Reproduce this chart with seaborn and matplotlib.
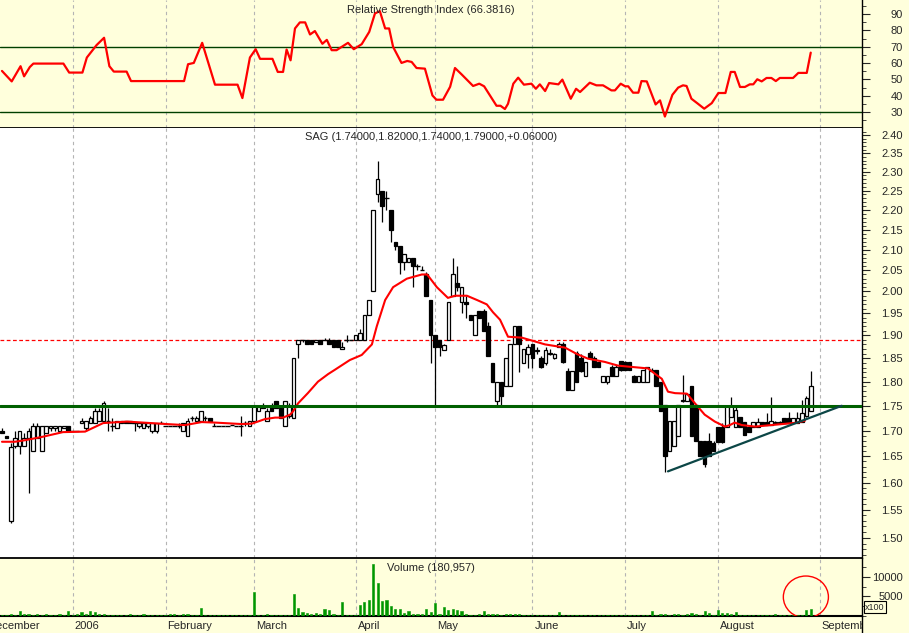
import numpy as np
import pandas as pd
import seaborn as sns
import matplotlib.pyplot as plt
import matplotlib.ticker as mticker
import matplotlib.transforms as mtrans
from matplotlib.patches import Ellipse, Rectangle
from matplotlib.lines import Line2D

sns.set_style("white")
plt.rcParams['font.family'] = ['Liberation Sans', 'DejaVu Sans']

# daily OHLC, one line per month (Dec 2005 .. Aug 2006)
opens = [1.700, 1.690, 1.530, 1.670, 1.670, 1.670, 1.685, 1.660, 1.685, 1.660, 1.695, 1.705, 1.705, 1.700, 1.705, 1.710,
         1.700, 1.700, 1.715, 1.705, 1.715, 1.715, 1.720, 1.720, 1.720, 1.710, 1.705, 1.720, 1.720, 1.720, 1.715, 1.710, 1.705, 1.710, 1.700, 1.700, 1.715,
         1.710, 1.710, 1.710, 1.710, 1.700, 1.690, 1.725, 1.720, 1.720, 1.725, 1.725, 1.710, 1.710, 1.710, 1.710, 1.712, 1.710, 1.710, 1.715, 1.710,
         1.720, 1.740, 1.750, 1.720, 1.750, 1.760, 1.745, 1.710, 1.730, 1.725, 1.880, 1.890, 1.890, 1.890, 1.885, 1.890, 1.890, 1.890, 1.890, 1.890, 1.870, 1.890, 1.890,
         1.890, 1.890, 1.890, 1.945, 2.000, 2.240, 2.250, 2.230, 2.200, 2.120, 2.110, 2.070, 2.070, 2.080, 2.060, 2.050, 2.040, 1.980,
         1.900, 1.890, 1.868, 1.890, 1.990, 2.020, 1.975, 1.975, 1.945, 1.900, 1.955, 1.955, 1.920, 1.840, 1.760, 1.800, 1.790, 1.790, 1.880, 1.920, 1.840, 1.860,
         1.880, 1.865, 1.850, 1.840, 1.860, 1.850, 1.875, 1.880, 1.822, 1.782, 1.861, 1.850, 1.812, 1.861, 1.850, 1.841, 1.800, 1.800, 1.832, 1.812, 1.845,
         1.841, 1.841, 1.812, 1.800, 1.800, 1.800, 1.825, 1.825, 1.800, 1.752, 1.660, 1.670, 1.690, 1.760, 1.760, 1.790, 1.752, 1.680, 1.680, 1.680, 1.675,
         1.708, 1.708, 1.708, 1.728, 1.708, 1.728, 1.718, 1.708, 1.708, 1.708, 1.718, 1.718, 1.711, 1.715, 1.715, 1.725, 1.725, 1.715, 1.715, 1.718, 1.730, 1.740]
highs = [1.705, 1.690, 1.675, 1.700, 1.700, 1.695, 1.705, 1.715, 1.715, 1.710, 1.710, 1.710, 1.710, 1.710, 1.710, 1.710,
         1.700, 1.700, 1.725, 1.720, 1.730, 1.745, 1.745, 1.760, 1.745, 1.725, 1.720, 1.720, 1.720, 1.720, 1.715, 1.715, 1.715, 1.715, 1.715, 1.715, 1.720,
         1.710, 1.710, 1.710, 1.715, 1.715, 1.725, 1.730, 1.730, 1.740, 1.730, 1.725, 1.715, 1.710, 1.710, 1.710, 1.712, 1.710, 1.730, 1.720, 1.720,
         1.750, 1.750, 1.755, 1.745, 1.755, 1.760, 1.745, 1.760, 1.755, 1.850, 1.890, 1.890, 1.890, 1.890, 1.890, 1.890, 1.895, 1.895, 1.890, 1.890, 1.885, 1.900, 1.890,
         1.900, 1.915, 1.945, 1.980, 2.200, 2.330, 2.250, 2.250, 2.200, 2.120, 2.110, 2.090, 2.080, 2.080, 2.065, 2.060, 2.045, 1.980,
         1.900, 1.890, 1.880, 1.975, 2.080, 2.060, 2.010, 1.990, 1.945, 1.945, 1.955, 1.960, 1.930, 1.840, 1.800, 1.800, 1.850, 1.880, 1.920, 1.920, 1.870, 1.880,
         1.880, 1.875, 1.855, 1.875, 1.870, 1.862, 1.885, 1.885, 1.830, 1.822, 1.865, 1.860, 1.841, 1.865, 1.855, 1.841, 1.812, 1.812, 1.835, 1.835, 1.845,
         1.845, 1.841, 1.815, 1.812, 1.825, 1.832, 1.830, 1.825, 1.800, 1.752, 1.720, 1.720, 1.752, 1.815, 1.775, 1.790, 1.752, 1.680, 1.680, 1.695, 1.680,
         1.708, 1.715, 1.749, 1.769, 1.749, 1.728, 1.718, 1.708, 1.718, 1.725, 1.718, 1.735, 1.769, 1.720, 1.720, 1.725, 1.738, 1.725, 1.738, 1.762, 1.770, 1.822]
lows = [1.695, 1.685, 1.527, 1.665, 1.655, 1.670, 1.580, 1.660, 1.685, 1.660, 1.695, 1.700, 1.700, 1.700, 1.705, 1.700,
        1.700, 1.700, 1.715, 1.700, 1.715, 1.715, 1.720, 1.720, 1.700, 1.700, 1.705, 1.715, 1.715, 1.715, 1.700, 1.705, 1.705, 1.705, 1.695, 1.695, 1.715,
        1.710, 1.710, 1.710, 1.705, 1.700, 1.690, 1.720, 1.720, 1.720, 1.720, 1.720, 1.710, 1.710, 1.710, 1.710, 1.712, 1.710, 1.690, 1.710, 1.710,
        1.720, 1.740, 1.745, 1.720, 1.740, 1.745, 1.725, 1.710, 1.725, 1.725, 1.850, 1.885, 1.880, 1.880, 1.885, 1.880, 1.890, 1.880, 1.875, 1.875, 1.870, 1.885, 1.890,
        1.890, 1.890, 1.890, 1.945, 2.000, 2.220, 2.170, 2.200, 2.120, 2.100, 2.040, 2.050, 2.070, 2.010, 2.050, 2.050, 1.990, 1.840,
        1.750, 1.855, 1.868, 1.890, 1.990, 2.000, 1.950, 1.940, 1.935, 1.900, 1.940, 1.910, 1.855, 1.800, 1.750, 1.750, 1.790, 1.790, 1.880, 1.820, 1.840, 1.830,
        1.830, 1.860, 1.830, 1.835, 1.858, 1.848, 1.875, 1.840, 1.782, 1.782, 1.800, 1.820, 1.812, 1.850, 1.832, 1.832, 1.800, 1.795, 1.812, 1.812, 1.822,
        1.825, 1.825, 1.800, 1.800, 1.800, 1.800, 1.822, 1.790, 1.740, 1.620, 1.660, 1.670, 1.690, 1.758, 1.760, 1.690, 1.680, 1.650, 1.630, 1.650, 1.660,
        1.678, 1.675, 1.708, 1.728, 1.708, 1.708, 1.691, 1.698, 1.708, 1.708, 1.711, 1.711, 1.711, 1.715, 1.715, 1.715, 1.715, 1.715, 1.715, 1.718, 1.728, 1.740]
closes = [1.695, 1.685, 1.667, 1.685, 1.700, 1.685, 1.700, 1.710, 1.710, 1.710, 1.710, 1.710, 1.710, 1.710, 1.710, 1.700,
          1.700, 1.700, 1.720, 1.720, 1.725, 1.740, 1.740, 1.755, 1.720, 1.710, 1.720, 1.715, 1.715, 1.715, 1.715, 1.715, 1.715, 1.715, 1.715, 1.715, 1.715,
          1.710, 1.710, 1.710, 1.710, 1.715, 1.720, 1.725, 1.725, 1.740, 1.725, 1.720, 1.710, 1.710, 1.710, 1.710, 1.712, 1.710, 1.710, 1.715, 1.720,
          1.750, 1.750, 1.745, 1.740, 1.740, 1.745, 1.725, 1.760, 1.750, 1.850, 1.890, 1.890, 1.880, 1.880, 1.890, 1.880, 1.890, 1.880, 1.875, 1.875, 1.875, 1.890, 1.890,
          1.900, 1.905, 1.945, 1.980, 2.200, 2.280, 2.210, 2.230, 2.150, 2.110, 2.070, 2.090, 2.080, 2.060, 2.060, 2.050, 1.990, 1.900,
          1.875, 1.875, 1.878, 1.975, 2.040, 2.010, 2.010, 1.970, 1.935, 1.945, 1.940, 1.910, 1.855, 1.800, 1.800, 1.770, 1.850, 1.880, 1.920, 1.880, 1.870, 1.875,
          1.850, 1.868, 1.832, 1.868, 1.862, 1.860, 1.880, 1.841, 1.782, 1.822, 1.800, 1.822, 1.841, 1.850, 1.832, 1.832, 1.812, 1.812, 1.812, 1.832, 1.825,
          1.825, 1.825, 1.800, 1.812, 1.825, 1.832, 1.822, 1.790, 1.740, 1.650, 1.720, 1.720, 1.752, 1.762, 1.775, 1.690, 1.680, 1.650, 1.635, 1.650, 1.660,
          1.678, 1.678, 1.749, 1.749, 1.742, 1.708, 1.691, 1.698, 1.718, 1.718, 1.711, 1.711, 1.720, 1.718, 1.718, 1.715, 1.715, 1.725, 1.725, 1.735, 1.765, 1.790]
# volume in hundreds of shares
volume = [200, 150, 400, 150, 1250, 400, 600, 300, 500, 300, 400, 250, 300, 400, 200, 1250,
          200, 400, 1000, 600, 1250, 1000, 600, 400, 250, 200, 200, 150, 200, 400, 200, 250, 600, 150, 150, 150, 150,
          150, 400, 500, 200, 400, 400, 200, 150, 2000, 150, 200, 150, 150, 150, 200, 150, 150, 150, 150, 300,
          6000, 150, 200, 400, 150, 150, 150, 150, 150, 5700, 2000, 1000, 830, 400, 830, 600, 1670, 1500, 400, 150, 3500, 150, 200,
          300, 2900, 3500, 4000, 13200, 8500, 3900, 4100, 2500, 1830, 1670, 830, 1250, 400, 600, 600, 1670, 1000,
          3330, 400, 2330, 1500, 1830, 1500, 1250, 400, 250, 250, 400, 1250, 600, 400, 600, 250, 400, 600, 400, 400, 250, 150,
          150, 200, 150, 200, 150, 200, 1080, 150, 200, 150, 150, 200, 150, 150, 250, 150, 150, 150, 150, 150, 200,
          150, 150, 150, 200, 150, 250, 1250, 300, 400, 400, 300, 600, 600, 300, 400, 830, 400, 300, 1250, 830, 300,
          1500, 830, 830, 600, 1000, 300, 150, 150, 150, 150, 150, 150, 150, 600, 300, 150, 150, 200, 150, 150, 1500, 1810]

# moving average line (bar position, price)
ma_pos = [0, 2.9, 5.2, 9.3, 13.8, 18.8, 22.9, 28.3, 37.3, 41.4, 45.2, 48.2, 54.3, 56.6, 59.5, 61.8, 63.6, 65.2, 65.8, 67,
          69.2, 71.5, 73.8, 75.3, 78.7, 81.4, 83.7, 84.8, 86.7, 88.5, 91.6, 95, 96.2, 98.4, 100.9, 102.5, 105.2, 107.5, 109.7,
          111.1, 112.7, 114.5, 117.6, 122.9, 127.4, 130.1, 132.6, 136.4, 139.4, 141.6, 146.2, 147.7, 149.3, 150.7, 152.3, 155,
          156.8, 159, 161.3, 163.6, 164.7, 165.8, 167.4, 170.4, 176.5, 180.1, 181.7]
ma_val = [1.678, 1.678, 1.681, 1.688, 1.697, 1.698, 1.715, 1.718, 1.713, 1.711, 1.717, 1.716, 1.713, 1.714, 1.723, 1.726, 1.726, 1.732, 1.738, 1.755,
          1.776, 1.800, 1.816, 1.825, 1.846, 1.857, 1.880, 1.920, 1.980, 2.010, 2.030, 2.040, 2.040, 2.010, 1.985, 1.990, 1.990, 1.980, 1.970,
          1.952, 1.935, 1.897, 1.895, 1.880, 1.873, 1.859, 1.849, 1.842, 1.834, 1.832, 1.828, 1.817, 1.806, 1.779, 1.776, 1.775,
          1.755, 1.732, 1.718, 1.708, 1.711, 1.716, 1.711, 1.708, 1.713, 1.716, 1.720]

# RSI line (bar position, value)
rsi_pos = [0, 2.2, 4.2, 5.0, 6.3, 7.1, 13.9, 15.2, 18.2, 19.2, 21.4, 23.1, 24.3, 25.3, 28.2, 29.2, 41.2, 42.1, 43.4, 45.3,
           48.2, 53.3, 54.4, 56.1, 57.4, 58.4, 61.2, 62.4, 63.6, 64.4, 65.3, 66.3, 67.4, 68.6, 69.7, 70.8, 72.5, 73.5, 74.6, 75.7,
           78.3, 79.6, 81.4, 83.1, 84.4, 85.5, 86.7, 87.6, 88.5, 90.4, 91.7, 92.7, 93.8, 95.7, 97.4, 98.3, 99.8, 101.4, 102.5, 104.0,
           106.6, 108.0, 109.1, 111.9, 112.8, 113.8, 114.5, 115.7, 116.8, 118.1, 119.8, 120.8, 121.7, 122.9, 123.8, 125.9, 126.8, 128.7, 129.9, 130.8,
           133.0, 134.5, 136.0, 137.9, 138.7, 140.0, 141.0, 141.7, 142.8, 144.0, 144.7, 145.9, 147.9, 148.9, 150.0, 151.7, 153.0, 154.1, 154.9, 156.0,
           157.3, 158.9, 160.6, 162.1, 163.7, 164.9, 165.8, 167.0, 168.1, 169.2, 170.0, 170.9, 171.9, 173.0, 174.1, 175.1, 176.0, 179.0, 180.2, 182.1,
           183.0]
rsi_val = [55.2, 48.8, 58.1, 51.9, 57.6, 59.7, 59.7, 54.2, 54.2, 63.4, 71.0, 75.5, 58.1, 54.8, 54.8, 49.0, 49.0, 59.3, 60.1, 72.4,
           46.8, 46.8, 38.6, 63.4, 68.5, 62.6, 62.6, 54.6, 54.6, 68.3, 61.7, 81.2, 84.9, 84.9, 77.5, 79.6, 71.8, 74.2, 67.9, 67.9,
           72.4, 68.5, 71.6, 79.1, 90.4, 91.8, 81.2, 81.2, 69.9, 60.1, 61.3, 60.7, 57.0, 56.6, 40.2, 37.6, 37.6, 45.5, 57.0, 53.1,
           46.0, 47.4, 45.8, 33.9, 33.9, 31.9, 35.1, 47.4, 51.1, 46.8, 47.4, 44.3, 47.0, 42.9, 47.8, 47.0, 49.9, 38.2, 44.3, 42.3,
           48.0, 46.4, 46.4, 43.3, 43.3, 47.4, 45.8, 45.8, 41.9, 41.9, 49.0, 48.8, 34.7, 37.2, 27.3, 40.6, 45.0, 46.4, 46.0, 38.2,
           35.5, 32.1, 35.5, 41.7, 41.7, 54.6, 54.6, 45.4, 45.4, 47.0, 47.0, 50.1, 48.8, 50.9, 50.9, 49.0, 50.9, 50.9, 54.0, 54.0,
           66.4]

month_labels = ["December", "2006", "February", "March", "April", "May", "June", "July", "August", "September"]
month_starts = [-3.6, 16, 37, 57, 80, 98, 120, 141, 162, 185]
trend_pos = [150.7, 190.0]
trend_val = [1.621, 1.750]

CREAM = '#FFFFDC'
W, H = 909, 633

df = pd.DataFrame({'o': opens, 'h': highs, 'l': lows, 'c': closes, 'v': volume})
df['x'] = np.arange(len(df))

fig = plt.figure(figsize=(W / 100, H / 100), dpi=100)
fig.patch.set_facecolor(CREAM)


def box(top, bottom):
    return [0, 1 - bottom / H, 862 / W, (bottom - top) / H]


ax_rsi = fig.add_axes(box(0, 127.5))
ax_px = fig.add_axes(box(127.5, 558), sharex=ax_rsi)
ax_vol = fig.add_axes(box(558, 616), sharex=ax_rsi)
ax_rsi.set_facecolor(CREAM)
ax_vol.set_facecolor(CREAM)
ax_px.set_facecolor('white')

# grid at month starts
for ax in (ax_rsi, ax_px, ax_vol):
    for m in month_starts[1:]:
        ax.axvline(m, color='#b4b4b4', lw=0.8, ls=(0, (3, 3)), zorder=0)

# --- RSI panel
sns.lineplot(x=rsi_pos, y=rsi_val, ax=ax_rsi, color='#ff0000', lw=1.6, estimator=None, zorder=3)
ax_rsi.axhline(70, color='#004000', lw=1.0)
ax_rsi.axhline(30, color='#004000', lw=1.0)
ax_rsi.set_ylim(20.6, 98.6)
ax_rsi.yaxis.set_major_locator(mticker.FixedLocator([30, 40, 50, 60, 70, 80, 90]))
ax_rsi.yaxis.set_minor_locator(mticker.MultipleLocator(5))
ax_rsi.text(0.5, 1 - 10 / 127, 'Relative Strength Index (66.3816)', transform=ax_rsi.transAxes,
            ha='center', va='center', fontsize=8)

# --- price panel (log scale)
ax_px.set_yscale('log')
ax_px.vlines(df.x, df.l, df.h, color='black', lw=0.9, zorder=2)
body = (df.c - df.o).abs() >= 0.0015
up = df.c >= df.o
for mask, fc in ((body & up, 'white'), (body & ~up, 'black')):
    sub = df[mask]
    ax_px.bar(sub.x, (sub.c - sub.o).abs(), bottom=np.minimum(sub.o, sub.c), width=0.82,
              facecolor=fc, edgecolor='black', lw=0.9, zorder=3)
doji = df[~body]
ax_px.hlines(doji.c, doji.x - 0.5, doji.x + 0.5, color='black', lw=1.0, zorder=3)

sns.lineplot(x=ma_pos, y=ma_val, ax=ax_px, color='#ff0000', lw=1.5, estimator=None, zorder=4)
ax_px.axhline(1.75, color='#006000', lw=2.2, zorder=5)
ax_px.axhline(1.89, color='#ff0000', lw=0.9, ls=(0, (3, 2)), zorder=1)
ax_px.plot(trend_pos, trend_val, color='#0c4646', lw=1.6, zorder=5)
ax_px.set_ylim(1.465, 2.422)
ax_px.yaxis.set_major_locator(mticker.FixedLocator(np.round(np.arange(1.50, 2.401, 0.05), 2)))
ax_px.yaxis.set_major_formatter(mticker.FormatStrFormatter('%.2f'))
ax_px.yaxis.set_minor_locator(mticker.FixedLocator(np.round(np.arange(1.47, 2.42, 0.01), 2)))
ax_px.yaxis.set_minor_formatter(mticker.NullFormatter())
ax_px.text(0.5, 1 - 9 / 430.5, 'SAG (1.74000,1.82000,1.74000,1.79000,+0.06000)', transform=ax_px.transAxes,
           ha='center', va='center', fontsize=8, zorder=6)

# --- volume panel
ax_vol.bar(df.x, df.v, width=0.5, color='#009600', edgecolor='#009600', lw=0.4, zorder=3)
ax_vol.set_ylim(0, 14800)
ax_vol.yaxis.set_major_locator(mticker.FixedLocator([5000, 10000]))
ax_vol.yaxis.set_minor_locator(mticker.MultipleLocator(2500))
ax_vol.text(0.5, 1 - 10 / 58, 'Volume (180,957)', transform=ax_vol.transAxes,
            ha='center', va='center', fontsize=8)
ax_vol.add_patch(Ellipse((181.9, 4850), 10.2, 10700, fill=False, ec='#ff0000', lw=1.0, zorder=4))

ax_vol.set_xlim(-0.45, 194.6)

for ax in (ax_rsi, ax_px, ax_vol):
    ax.set_xlabel('')
    ax.set_ylabel('')
    ax.yaxis.tick_right()
    ax.tick_params(axis='y', which='major', direction='out', length=5.5, width=0.8, pad=24, labelsize=8)
    ax.tick_params(axis='y', which='minor', direction='out', length=3, width=0.6)
    plt.setp(ax.get_yticklabels(), ha='right')
    for s in ('left', 'top', 'bottom'):
        ax.spines[s].set_visible(False)
    ax.spines['right'].set_color('black')
    ax.spines['right'].set_linewidth(1.0)

ax_rsi.spines['bottom'].set_visible(True)
ax_rsi.spines['bottom'].set_linewidth(1.3)
ax_rsi.spines['bottom'].set_color('black')
ax_vol.spines['top'].set_visible(True)
ax_vol.spines['top'].set_linewidth(1.3)
ax_vol.spines['top'].set_color('black')
ax_vol.spines['bottom'].set_visible(True)
ax_vol.spines['bottom'].set_linewidth(1.5)
ax_vol.spines['bottom'].set_color('black')

ax_rsi.tick_params(axis='x', which='both', length=0, labelbottom=False)
ax_px.tick_params(axis='x', which='both', length=0, labelbottom=False)
ax_vol.xaxis.set_major_locator(mticker.FixedLocator(month_starts[1:]))
ax_vol.xaxis.set_minor_locator(mticker.MultipleLocator(5))
ax_vol.tick_params(axis='x', which='major', direction='out', length=12.5, width=0.8, labelbottom=False)
ax_vol.tick_params(axis='x', which='minor', direction='out', length=2.5, width=0.6)

# month labels under the volume panel, clipped at the right axis
trans = mtrans.blended_transform_factory(ax_vol.transData, fig.transFigure)
clip = Rectangle((0, 0), 862 / W, 1, transform=fig.transFigure, visible=False)
fig.add_artist(clip)
for lab, pos in zip(month_labels, month_starts):
    t = fig.text(pos + 0.45, 1 - 626 / H, lab, transform=trans, ha='left', va='center', fontsize=8)
    t.set_clip_path(clip)

fig.add_artist(Line2D([862 / W, 862 / W], [0, 1 - 616 / H], transform=fig.transFigure, color='black', lw=1.0))
fig.text(865 / W, 1 - 607 / H, 'x100', fontsize=6.5, ha='left', va='center',
         bbox=dict(boxstyle='square,pad=0.15', fc=CREAM, ec='black', lw=0.8))

fig.savefig('out.png', dpi=100, facecolor=CREAM)
